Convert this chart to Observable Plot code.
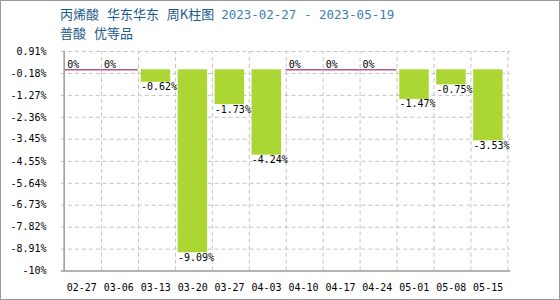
<!DOCTYPE html>
<html><head><meta charset="utf-8">
<script src="https://cdn.jsdelivr.net/npm/d3@7"></script>
<script src="https://cdn.jsdelivr.net/npm/@observablehq/plot@0.6"></script>
<style>
html,body{margin:0;padding:0;background:#fff;}
#wrap{position:relative;width:560px;height:300px;box-sizing:border-box;border:1px solid #999;overflow:hidden;}
#title{position:absolute;left:59px;top:5px;font-family:"Noto Sans CJK SC",sans-serif;font-size:13px;color:#1b5a8a;white-space:nowrap;line-height:16px;word-spacing:5px;}
#title .date{font-family:"DejaVu Sans Mono",monospace;font-size:12.5px;color:#3b7db5;word-spacing:0;margin-left:-1px;}
#sub{position:absolute;left:59px;top:24px;font-family:"Noto Sans CJK SC",sans-serif;font-size:13px;color:#1b5a8a;white-space:nowrap;line-height:16px;word-spacing:5px;}
#chart{position:absolute;left:-1px;top:41px;}
</style></head>
<body>
<div id="wrap">
<div id="title">丙烯酸 华东华东 周K柱图 <span class="date">2023-02-27 - 2023-05-19</span></div>
<div id="sub">普酸 优等品</div>
<div id="chart"></div>
</div>
<script>
const dates = ["02-27","03-06","03-13","03-20","03-27","04-03","04-10","04-17","04-24","05-01","05-08","05-15"];
const changes = [0,0,-0.62,-9.09,-1.73,-4.24,0,0,0,-1.47,-0.75,-3.53];
const yTicks = [0.91,-0.18,-1.27,-2.36,-3.45,-4.55,-5.64,-6.73,-7.82,-8.91,-10];
const yTickLabels = ["0.91%","-0.18%","-1.27%","-2.36%","-3.45%","-4.55%","-5.64%","-6.73%","-7.82%","-8.91%","-10%"];

const data = dates.map((d,i)=>({date:d, value:changes[i]}));
const W = 560, H = 259, mL = 61, mR = 49, mT = 9, mB = 30;
const step = (W - mL - mR) / dates.length;
const yMin = -10, yMax = 0.91;
const grid = "#c4c4c4";
const fmt = v => v === 0 ? "0%" : v.toFixed(2) + "%";

const chart = Plot.plot({
  width: W, height: H,
  marginLeft: mL, marginRight: mR, marginTop: mT, marginBottom: mB,
  style: {fontFamily: "DejaVu Sans Mono, monospace", fontSize: "10px", color: "#000", background: "transparent"},
  x: {domain: dates, padding: 0, label: null},
  y: {domain: [yMin, yMax], label: null},
  marks: [
    Plot.ruleY(yTicks.filter(t => t !== yMin), {stroke: grid, strokeDasharray: "4,3"}),
    Plot.ruleX(dates, {x: d => d, dx: step/2, y1: yMin, y2: yMax, stroke: grid, strokeDasharray: "4,3"}),
    Plot.barY(data.filter(d => d.value !== 0), {x: "date", y: "value", fill: "#acd633", insetLeft: 3, insetRight: 4.5}),
    Plot.tickY(data.filter(d => d.value === 0), {x: "date", y: 0, stroke: "#b4598c", strokeWidth: 1.5}),
    Plot.text(data.filter(d => d.value === 0), {x: "date", y: "value", text: d => fmt(d.value), textAnchor: "start", lineAnchor: "bottom", dx: -step/2 + 3, dy: -2, fill: "#000"}),
    Plot.text(data.filter(d => d.value !== 0), {x: "date", y: "value", text: d => fmt(d.value), textAnchor: "start", lineAnchor: "top", dx: -step/2 + 3, dy: 1, fill: "#000"}),
    Plot.ruleY([yMin], {stroke: "#999", strokeWidth: 1.5}),
    Plot.ruleX([dates[0]], {x: d => d, dx: -step/2, y1: yMin, y2: yMax, stroke: "#999", strokeWidth: 1.5}),
    Plot.axisY({ticks: yTicks, tickFormat: d => yTickLabels[yTicks.indexOf(d)], tickSize: 0, tickPadding: 15, label: null}),
    Plot.axisX({tickSize: 0, tickPadding: 13, label: null, dx: -1})
  ]
});
document.getElementById("chart").appendChild(chart);
</script>
</body></html>
